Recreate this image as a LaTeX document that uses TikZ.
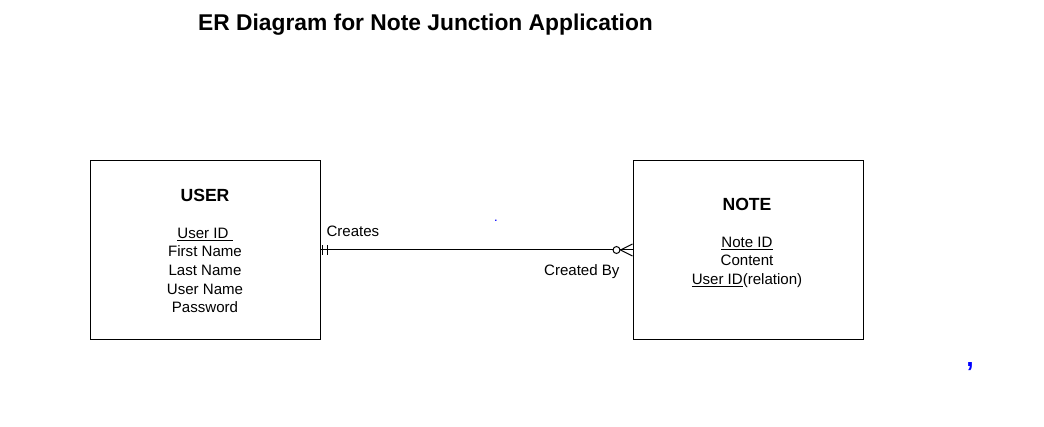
\documentclass[tikz,border=0pt]{standalone}
\usepackage{fontspec}
\setmainfont{Liberation Sans}
\usetikzlibrary{positioning}
\tikzstyle{entity}=[
   rectangle,
   draw=black,
   line width=0.75pt,
   minimum width=172.5pt,
   minimum height=133.5pt,
   inner sep=0pt
]
\tikzstyle{heading}=[
   font=\fontsize{13.2}{15}\selectfont\bfseries,
   anchor=north,
   inner sep=0pt
]
\tikzstyle{attrs}=[
   font=\fontsize{11.3}{13.9}\selectfont,
   align=center,
   anchor=north,
   inner sep=0pt
]
\tikzstyle{rel}=[
   font=\fontsize{11.3}{13.9}\selectfont,
   inner sep=0pt
]
\tikzstyle{stray}=[
   font=\fontsize{11.3}{13.9}\selectfont,
   text=blue,
   inner sep=0pt
]
\newcommand{\pkey}[1]{\underline{#1}}

\begin{document}
\begin{tikzpicture}[
         x=0.75pt, y=-0.75pt,
         line width=0.75pt
      ]
      \useasboundingbox (0,0) rectangle (1044,427);

      \node (title) [anchor=base, inner sep=0pt,
         font=\fontsize{17.1}{20}\selectfont\bfseries] at (425.5,30.5)
         {ER Diagram for Note Junction Application};

      \node (user) [entity] at (205,250) {};
      \node (note) [entity, right=234pt of user] {};

      \node (userhead) [heading] at (205,188.7) {USER};
      \node (userattr) [attrs] at (205,227.6) {
         \pkey{User ID~}
         \\First Name
         \\Last Name
         \\User Name
         \\Password
      };

      \node (notehead) [heading] at (747,197.7) {NOTE};
      \node (noteattr) [attrs] at (747,236.6) {
         \pkey{Note ID}
         \\Content
         \\\pkey{User ID}(relation)
      };

      \node (creates) [rel, anchor=north west] at (326,225.6) {Creates};
      \node (createdby) [rel, anchor=north east] at (620,263.6) {Created By};

      \node (dot) [stray, font=\scriptsize\bfseries] at (496,221) {.};
      \node (comma) [stray, font=\fontsize{20}{22}\selectfont\bfseries, anchor=base] at (970,366) {,};

      % relation user -- note
      \draw (user.east) -- (note.west);
      % one and only one
      \draw ([xshift=1.5pt,yshift=3.4pt]user.east) -- ([xshift=1.5pt,yshift=-3.4pt]user.east);
      \draw ([xshift=5.25pt,yshift=3.4pt]user.east) -- ([xshift=5.25pt,yshift=-3.4pt]user.east);
      % zero or many
      \draw ([xshift=-9pt]note.west) -- ([yshift=4.5pt]note.west);
      \draw ([xshift=-9pt]note.west) -- ([yshift=-4.5pt]note.west);
      \draw[fill=white] ([xshift=-12pt]note.west) circle (2.6pt);

   \end{tikzpicture}
\end{document}
